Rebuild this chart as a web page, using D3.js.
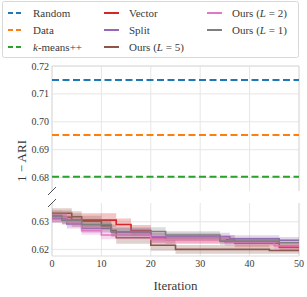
<!DOCTYPE html>
<html lang="en">
<head>
<meta charset="UTF-8">
<title>1 - ARI over iterations</title>
<script src="https://d3js.org/d3.v7.min.js"></script>
<style>
  body { margin: 0; background: #fff; }
  svg text { font-family: "Liberation Serif", "DejaVu Serif", serif; fill: #3a3a3a; }
</style>
</head>
<body>
<div id="chart"></div>
<script>
// flat baselines (top panel)
const baselineNames = ["Random", "Data", "k-means++"];
const baselineValues = [0.7150, 0.6953, 0.6803];
const baselineColors = ["#1f77b4", "#ff7f0e", "#2ca02c"];

// step series (lower panel): change-point iterations, mean, half band width
const vectorIter = [0, 2, 4, 13, 16, 20, 23, 37, 46];
const vectorMean = [0.6320, 0.6316, 0.6306, 0.6290, 0.6268, 0.6242, 0.6236, 0.6222, 0.6208];
const vectorSd   = [0.0022, 0.0025, 0.0025, 0.0022, 0.0020, 0.0018, 0.0016, 0.0014, 0.0012];

const splitIter = [0, 3, 6, 12, 20, 36, 46];
const splitMean = [0.6312, 0.6292, 0.6276, 0.6262, 0.6246, 0.6238, 0.6233];
const splitSd   = [0.0016, 0.0016, 0.0016, 0.0015, 0.0014, 0.0013, 0.0012];

const l5Iter = [0, 4, 6, 10, 12, 13, 20, 25, 44];
const l5Mean = [0.6331, 0.6318, 0.6302, 0.6286, 0.6268, 0.6242, 0.6215, 0.6200, 0.6196];
const l5Sd   = [0.0018, 0.0020, 0.0020, 0.0021, 0.0022, 0.0022, 0.0020, 0.0016, 0.0012];

const l2Iter = [0, 3, 6, 10, 20, 35, 45];
const l2Mean = [0.6316, 0.6300, 0.6268, 0.6252, 0.6236, 0.6225, 0.6213];
const l2Sd   = [0.0016, 0.0016, 0.0015, 0.0015, 0.0014, 0.0013, 0.0012];

const l1Iter = [0, 2, 6, 12, 23, 34, 46];
const l1Mean = [0.6321, 0.6306, 0.6290, 0.6265, 0.6252, 0.6230, 0.6224];
const l1Sd   = [0.0015, 0.0016, 0.0015, 0.0015, 0.0014, 0.0013, 0.0012];

const xTicks = [0, 10, 20, 30, 40, 50];
const topTicks = [0.68, 0.69, 0.70, 0.71, 0.72];
const lowTicks = [0.62, 0.63];

const series = [
  { label: "Vector", color: "#d62728", iter: vectorIter, mean: vectorMean, sd: vectorSd },
  { label: "Split", color: "#9467bd", iter: splitIter, mean: splitMean, sd: splitSd },
  { label: "Ours (L = 5)", color: "#8c564b", iter: l5Iter, mean: l5Mean, sd: l5Sd, L: "5" },
  { label: "Ours (L = 2)", color: "#e377c2", iter: l2Iter, mean: l2Mean, sd: l2Sd, L: "2" },
  { label: "Ours (L = 1)", color: "#7f7f7f", iter: l1Iter, mean: l1Mean, sd: l1Sd, L: "1" }
];

const W = 307, H = 297;
const left = 52, right = 299;
const svg = d3.select("#chart").append("svg").attr("width", W).attr("height", H);

const x = d3.scaleLinear().domain([0, 50]).range([left, right]);
const yTop = d3.scaleLinear().domain([0.6752, 0.72]).range([191, 66]);
const yLow = d3.scaleLinear().domain([0.6176, 0.6368]).range([256, 203]);

const gridColor = "#e6e6e6";

function panel(y, ticks, showX) {
  const g = svg.append("g");
  const [y0, y1] = y.range();
  // grid
  g.selectAll(".vg").data(xTicks).enter().append("line")
    .attr("x1", d => x(d)).attr("x2", d => x(d)).attr("y1", y1).attr("y2", y0)
    .attr("stroke", gridColor).attr("stroke-width", 1);
  g.selectAll(".hg").data(ticks).enter().append("line")
    .attr("x1", left).attr("x2", right).attr("y1", d => y(d)).attr("y2", d => y(d))
    .attr("stroke", gridColor).attr("stroke-width", 1);
  // tick labels
  g.selectAll(".yt").data(ticks).enter().append("text")
    .attr("x", left - 3).attr("y", d => y(d)).attr("dy", "0.35em")
    .attr("text-anchor", "end").style("font-size", "10px")
    .text(d3.format(".2f"));
  if (showX) {
    g.selectAll(".xt").data(xTicks).enter().append("text")
      .attr("x", d => x(d)).attr("y", y0 + 11)
      .attr("text-anchor", "middle").style("font-size", "10px")
      .text(d => d);
  }
  return g;
}

const topG = panel(yTop, topTicks, false);
const lowG = panel(yLow, lowTicks, true);

// spines
const spine = "#dcdcdc";
topG.append("path").attr("d", `M${left},191V66H${right}V191`).attr("fill", "none").attr("stroke", spine);
lowG.append("path").attr("d", `M${left},203V256H${right}V203`).attr("fill", "none").attr("stroke", spine);

// baselines
baselineValues.forEach((v, i) => {
  topG.append("line")
    .attr("x1", x(0)).attr("x2", x(50)).attr("y1", yTop(v)).attr("y2", yTop(v))
    .attr("stroke", baselineColors[i]).attr("stroke-width", 2)
    .attr("stroke-dasharray", "7,3.5");
});

// step series
svg.append("clipPath").attr("id", "lowclip").append("rect")
  .attr("x", left).attr("y", 203).attr("width", right - left).attr("height", 53);

series.forEach(s => {
  const pts = s.iter.map((it, i) => ({ it, m: s.mean[i], sd: s.sd[i] }));
  pts.push({ it: 50, m: s.mean[s.mean.length - 1], sd: s.sd[s.sd.length - 1] });
  const area = d3.area().curve(d3.curveStepAfter)
    .x(d => x(d.it)).y0(d => yLow(d.m - d.sd)).y1(d => yLow(d.m + d.sd));
  const line = d3.line().curve(d3.curveStepAfter)
    .x(d => x(d.it)).y(d => yLow(d.m));
  lowG.append("path").datum(pts).attr("d", area)
    .attr("fill", s.color).attr("fill-opacity", 0.27).attr("clip-path", "url(#lowclip)");
  lowG.append("path").datum(pts).attr("d", line)
    .attr("fill", "none").attr("stroke", s.color).attr("stroke-width", 1.6)
    .attr("clip-path", "url(#lowclip)");
});

// break marks
svg.append("line").attr("x1", left - 4).attr("y1", 195).attr("x2", left + 4).attr("y2", 187)
  .attr("stroke", "#222").attr("stroke-width", 0.8);
svg.append("line").attr("x1", left - 4).attr("y1", 207).attr("x2", left + 4).attr("y2", 199)
  .attr("stroke", "#222").attr("stroke-width", 0.8);

// axis labels
svg.append("text").attr("x", (left + right) / 2).attr("y", 290)
  .attr("text-anchor", "middle").style("font-size", "13px").text("Iteration");
svg.append("text").attr("transform", "translate(26,161) rotate(-90)")
  .attr("text-anchor", "middle").style("font-size", "13px").text("1 \u2212 ARI");

// legend
const legend = svg.append("g");
legend.append("rect").attr("x", 2.5).attr("y", 1.5).attr("width", 296).attr("height", 56)
  .attr("rx", 2).attr("fill", "#fff").attr("stroke", "#d8d8d8");

const entries = [
  { label: "Random", color: baselineColors[0], dash: true },
  { label: "Data", color: baselineColors[1], dash: true },
  { label: "k-means++", color: baselineColors[2], dash: true, k: true },
  ...series.map(s => ({ label: s.label, color: s.color, L: s.L }))
];
const colX = [8, 104, 207];
const rowY = [13, 30, 47];
entries.forEach((e, i) => {
  const cx = colX[Math.floor(i / 3)], cy = rowY[i % 3];
  legend.append("line").attr("x1", cx).attr("x2", cx + 15).attr("y1", cy).attr("y2", cy)
    .attr("stroke", e.color).attr("stroke-width", 2)
    .attr("stroke-dasharray", e.dash ? "5,3" : null);
  const t = legend.append("text").attr("x", cx + 25).attr("y", cy).attr("dy", "0.35em")
    .style("font-size", "11px");
  if (e.k) {
    t.append("tspan").style("font-style", "italic").text("k");
    t.append("tspan").text("-means++");
  } else if (e.L) {
    t.append("tspan").text("Ours (");
    t.append("tspan").style("font-style", "italic").text("L");
    t.append("tspan").text(" = " + e.L + ")");
  } else {
    t.text(e.label);
  }
});
</script>
</body>
</html>
